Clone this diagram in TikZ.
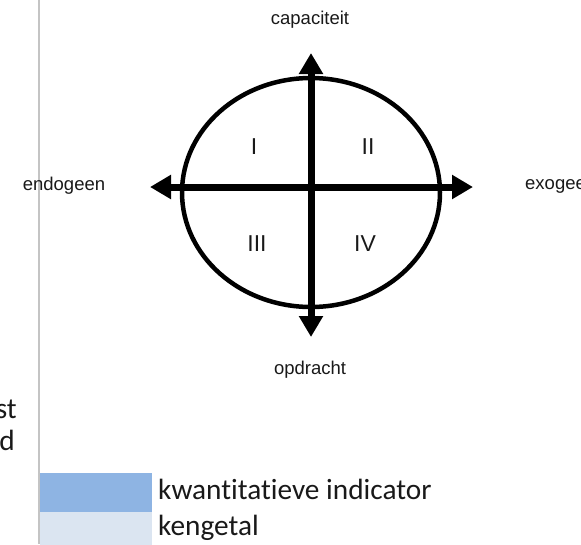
\documentclass[tikz,border=0pt]{standalone}
\usepackage{fontspec}
\setmainfont{Liberation Sans}
\newfontfamily\calfont[Ligatures=NoCommon]{Carlito}
\usetikzlibrary{arrows.meta,shapes.geometric}
\definecolor{legblue}{HTML}{8EB4E3}
\definecolor{leglight}{HTML}{DBE5F1}
\definecolor{rulegray}{HTML}{C4C4C4}
\tikzset{
  axislabel/.style={font=\fontsize{18.5}{22}\selectfont, text=black!90, inner sep=0pt},
  quadlabel/.style={font=\fontsize{23}{26}\selectfont, text=black!90, inner sep=0pt},
  legtext/.style={font=\calfont\fontsize{29.3}{34}\selectfont, text=black!90, inner sep=0pt},
  axisarrow/.style={line width=7pt, {Triangle[width=23pt,length=21pt]}-{Triangle[width=23pt,length=21pt]}},
  rim/.style={line width=4.5pt, draw=black},
}
\begin{document}
\begin{tikzpicture}[x=1pt,y=-1pt]
\useasboundingbox (0,0) rectangle (581,544);
\begin{scope}
\clip (0,0) rectangle (581,544);
% vertical separator
\coordinate (rtop) at (39,0);
\coordinate (rbot) at (39,544);
\draw[rulegray, line width=2.5pt] (rtop) -- (rbot);
% legend boxes
\node[fill=legblue, minimum width=112pt, minimum height=39pt, inner sep=0pt, anchor=north west] (kbox) at (40,473) {};
\node[fill=leglight, minimum width=112pt, minimum height=38pt, inner sep=0pt, anchor=north west] (gbox) at (40,512) {};
\node[legtext, anchor=base west] (ktext) at (158,499) {kwantitatieve indicator};
\node[legtext, anchor=base west] (gtext) at (158,535) {kengetal};
% cut text at left
\node[legtext, anchor=base east] (st) at (17,418) {st};
\node[legtext, anchor=base east] (dd) at (15,450) {d};
% ellipse
\node[rim, ellipse, minimum width=258pt, minimum height=229pt, inner sep=0pt] (ell) at (311,192.5) {};
% axes
\coordinate (L) at (150,187);
\coordinate (R) at (473,187);
\coordinate (T) at (311,53);
\coordinate (B) at (311,337);
\draw[axisarrow] (L) -- (R);
\draw[axisarrow] (T) -- (B);
% axis labels
\node[axislabel] (cap) at (310,20) {capaciteit};
\node[axislabel] (endo) at (64,186) {endogeen};
\node[axislabel, anchor=west] (exo) at (525,186) {exogeen};
\node[axislabel] (opd) at (310,370) {opdracht};
% quadrant labels
\node[quadlabel] (q1) at (254,147) {I};
\node[quadlabel] (q2) at (368,147) {II};
\node[quadlabel] (q3) at (257,244) {III};
\node[quadlabel] (q4) at (365,244) {IV};
\end{scope}
\end{tikzpicture}
\end{document}
